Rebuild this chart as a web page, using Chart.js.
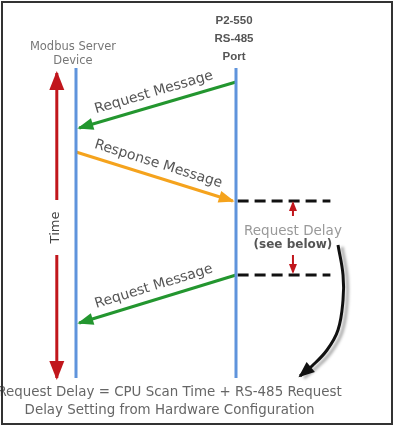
<!DOCTYPE html>
<html>
<head>
<meta charset="utf-8">
<script src="https://cdn.jsdelivr.net/npm/chart.js@4"></script>
<style>
  html, body { margin: 0; padding: 0; background: #fff; }
  #wrap { width: 393px; height: 426px; }
</style>
</head>
<body>
<div id="wrap"><canvas id="diagram" width="393" height="426"></canvas></div>
<script>
// lanes: 0 = Modbus server device, 1 = P2-550 RS-485 port
// y is time, running downward
const laneNames = [["Modbus Server", "Device"], ["P2-550", "RS-485", "Port"]];
const laneX = [0, 1];
const lifelineSpan = [-0.2, 30.8];

const timeAxisX = -0.12;
const timeArrowSpan = [0.3, 30.8];
const timeGap = [13.0, 18.5];

const messageNames = ["Request Message", "Response Message", "Request Message"];
const messageFrom = [[1, 1.2], [0, 8.2], [1, 20.5]];
const messageTo = [[0.02, 5.8], [0.98, 13.1], [0.02, 25.3]];
const messageColors = ["#23962f", "#f5a31d", "#23962f"];

const delayLevels = [13.1, 20.5];
const delaySpanX = [1.01, 1.59];
const delayMarkX = 1.356;
const delayMarkUp = [14.6, 13.3];
const delayMarkDown = [18.5, 20.2];

const curveX = [1.6375, 1.669, 1.669, 1.6375, 1.569, 1.475, 1.4];
const curveY = [17.5, 20.5, 23.0, 26.0, 28.0, 29.6, 30.6];

const delayNote = ["Request Delay", "(see below)"];
const formula = ["Request Delay = CPU Scan Time + RS-485 Request", "Delay Setting from Hardware Configuration"];

const blue = "#5f94dc";
const red = "#c1161c";

const datasets = [];

laneX.forEach((x) => {
  datasets.push({
    data: [{ x: x, y: lifelineSpan[0] }, { x: x, y: lifelineSpan[1] }],
    borderColor: blue, borderWidth: 3
  });
});

// time arrow, split round the "Time" label
datasets.push({
  data: [{ x: timeAxisX, y: timeArrowSpan[0] }, { x: timeAxisX, y: timeGap[0] }],
  borderColor: red, borderWidth: 3, arrowAt: "start", arrowSize: [17, 15]
});
datasets.push({
  data: [{ x: timeAxisX, y: timeGap[1] }, { x: timeAxisX, y: timeArrowSpan[1] }],
  borderColor: red, borderWidth: 3, arrowAt: "end", arrowSize: [17, 15]
});

messageNames.forEach((name, i) => {
  datasets.push({
    data: [{ x: messageFrom[i][0], y: messageFrom[i][1] }, { x: messageTo[i][0], y: messageTo[i][1] }],
    borderColor: messageColors[i], borderWidth: 3, arrowAt: "end", arrowSize: [14, 12],
    caption: name
  });
});

delayLevels.forEach((y) => {
  datasets.push({
    data: [{ x: delaySpanX[0], y: y }, { x: delaySpanX[1], y: y }],
    borderColor: "#111", borderWidth: 3, borderDash: [11, 6]
  });
});

datasets.push({
  data: [{ x: delayMarkX, y: delayMarkUp[0] }, { x: delayMarkX, y: delayMarkUp[1] }],
  borderColor: red, borderWidth: 2, arrowAt: "end", arrowSize: [8, 8]
});
datasets.push({
  data: [{ x: delayMarkX, y: delayMarkDown[0] }, { x: delayMarkX, y: delayMarkDown[1] }],
  borderColor: red, borderWidth: 2, arrowAt: "end", arrowSize: [8, 8]
});

datasets.push({
  data: curveX.map((x, i) => ({ x: x, y: curveY[i] })),
  borderColor: "#111", borderWidth: 3, tension: 0.4, shadow: true,
  arrowAt: "end", arrowSize: [14, 13]
});

datasets.forEach((d) => {
  d.showLine = true;
  d.pointRadius = 0;
  d.fill = false;
});

function drawHead(ctx, x0, y0, x1, y1, size, color) {
  const a = Math.atan2(y1 - y0, x1 - x0);
  ctx.save();
  ctx.translate(x1, y1);
  ctx.rotate(a);
  ctx.beginPath();
  ctx.moveTo(2, 0);
  ctx.lineTo(-size[0], size[1] / 2);
  ctx.lineTo(-size[0], -size[1] / 2);
  ctx.closePath();
  ctx.fillStyle = color;
  ctx.fill();
  ctx.restore();
}

const shadowPlugin = {
  id: "shadow",
  beforeDatasetDraw(chart, args) {
    if (!chart.data.datasets[args.index].shadow) return;
    const ctx = chart.ctx;
    ctx.save();
    ctx.shadowColor = "rgba(0,0,0,0.35)";
    ctx.shadowBlur = 3;
    ctx.shadowOffsetX = 4;
    ctx.shadowOffsetY = 2;
  },
  afterDatasetDraw(chart, args) {
    if (!chart.data.datasets[args.index].shadow) return;
    chart.ctx.restore();
  }
};

const annotate = {
  id: "annotate",
  afterDatasetsDraw(chart) {
    const ctx = chart.ctx;
    const sx = chart.scales.x, sy = chart.scales.y;

    // arrow heads
    chart.data.datasets.forEach((d, i) => {
      if (!d.arrowAt) return;
      const pts = chart.getDatasetMeta(i).data;
      const n = pts.length;
      if (d.arrowAt === "end") {
        drawHead(ctx, pts[n - 2].x, pts[n - 2].y, pts[n - 1].x, pts[n - 1].y, d.arrowSize, d.borderColor);
      } else {
        drawHead(ctx, pts[1].x, pts[1].y, pts[0].x, pts[0].y, d.arrowSize, d.borderColor);
      }
    });

    // captions along message arrows
    chart.data.datasets.forEach((d, i) => {
      if (!d.caption) return;
      const pts = chart.getDatasetMeta(i).data;
      let a = pts[0], b = pts[1];
      if (b.x < a.x) { const t = a; a = b; b = t; }
      const ang = Math.atan2(b.y - a.y, b.x - a.x);
      const mx = (a.x + b.x) / 2 + Math.sin(ang) * 13;
      const my = (a.y + b.y) / 2 - Math.cos(ang) * 13;
      ctx.save();
      ctx.translate(mx, my);
      ctx.rotate(ang);
      ctx.font = "14px 'DejaVu Sans'";
      ctx.fillStyle = "#555";
      ctx.textAlign = "center";
      ctx.textBaseline = "middle";
      ctx.fillText(d.caption, 0, 0);
      ctx.restore();
    });

    ctx.save();
    ctx.textAlign = "center";
    ctx.textBaseline = "middle";

    // lane headers
    ctx.font = "11.5px 'DejaVu Sans'";
    ctx.fillStyle = "#777";
    laneNames[0].forEach((t, k) => {
      ctx.fillText(t, sx.getPixelForValue(laneX[0]) - 3, sy.getPixelForValue(lifelineSpan[0] - 2.1 + k * 1.4));
    });
    ctx.font = "bold 11.5px 'Liberation Sans Narrow', 'Liberation Sans'";
    ctx.fillStyle = "#555";
    laneNames[1].forEach((t, k) => {
      ctx.fillText(t, sx.getPixelForValue(laneX[1]) - 2, sy.getPixelForValue(lifelineSpan[0] - 4.7 + k * 1.8));
    });

    // time label
    ctx.save();
    ctx.translate(sx.getPixelForValue(timeAxisX) - 1, sy.getPixelForValue((timeGap[0] + timeGap[1]) / 2));
    ctx.rotate(-Math.PI / 2);
    ctx.font = "13px 'DejaVu Sans'";
    ctx.fillStyle = "#444";
    ctx.fillText("Time", 0, 0);
    ctx.restore();

    // request delay note
    const mid = (delayLevels[0] + delayLevels[1]) / 2;
    ctx.font = "13.5px 'DejaVu Sans'";
    ctx.fillStyle = "#999";
    ctx.fillText(delayNote[0], sx.getPixelForValue(delayMarkX), sy.getPixelForValue(mid - 0.7));
    ctx.font = "bold 12px 'DejaVu Sans'";
    ctx.fillStyle = "#555";
    ctx.fillText(delayNote[1], sx.getPixelForValue(delayMarkX), sy.getPixelForValue(mid + 0.7));

    // formula under the diagram
    ctx.font = "13.4px 'DejaVu Sans'";
    ctx.fillStyle = "#666";
    formula.forEach((t, k) => {
      ctx.fillText(t, sx.getPixelForValue(0.585), sy.getPixelForValue(lifelineSpan[1] + 1.5 + k * 1.8));
    });
    ctx.restore();

    // frame
    ctx.save();
    ctx.strokeStyle = "#333";
    ctx.lineWidth = 2;
    ctx.strokeRect(2, 2, chart.width - 3, chart.height - 4);
    ctx.restore();
  }
};

new Chart(document.getElementById("diagram"), {
  type: "scatter",
  data: { datasets: datasets },
  options: {
    responsive: false,
    animation: false,
    events: [],
    layout: { padding: 0 },
    plugins: { legend: { display: false }, tooltip: { enabled: false } },
    scales: {
      x: { type: "linear", display: false, min: -0.475, max: 1.98125 },
      y: { type: "linear", display: false, min: -7, max: 35.6, reverse: true }
    }
  },
  plugins: [shadowPlugin, annotate]
});
</script>
</body>
</html>
